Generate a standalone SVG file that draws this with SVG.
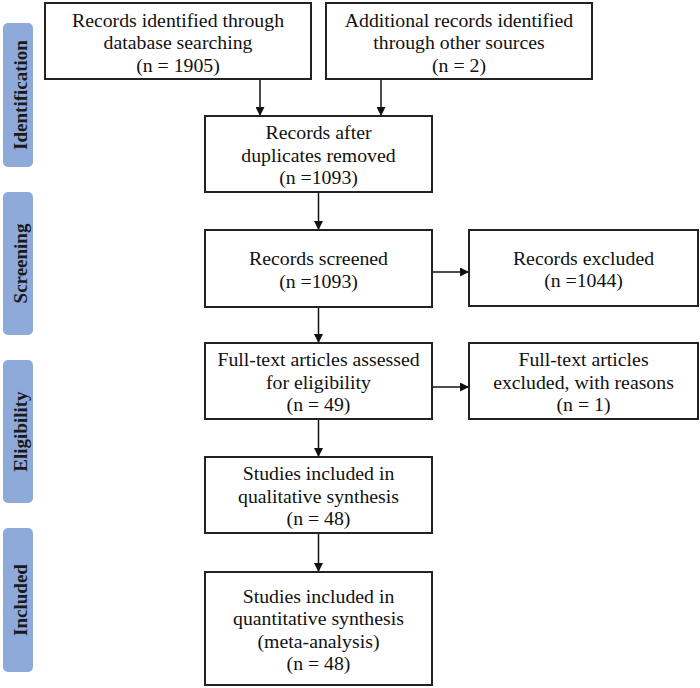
<svg xmlns="http://www.w3.org/2000/svg" width="700" height="688" viewBox="0 0 700 688">
<defs>
<style>
.box{fill:#fff;stroke:#222;stroke-width:2}
.t{font-family:"Liberation Serif","Times New Roman",serif;font-size:19.8px;fill:#111;text-anchor:middle}
.bar{fill:#8eaadb}
.side{font-family:"Liberation Serif","Times New Roman",serif;font-size:19px;font-weight:bold;fill:#1a1a1a;text-anchor:middle}
.c{stroke:#111;stroke-width:1.5;fill:none;marker-end:url(#ah)}
</style>
<marker id="ah" viewBox="0 0 10 10" refX="10" refY="5" markerWidth="9" markerHeight="9" markerUnits="userSpaceOnUse" orient="auto">
<path d="M0,0 L10,5 L0,10 Z" fill="#111"/>
</marker>
</defs>
<rect width="700" height="688" fill="#fff"/>
<g id="phase-identification"><rect class="bar" x="3" y="23" width="30" height="144" rx="5"/><text class="side" transform="translate(27,95) rotate(-90)">Identification</text></g>
<g id="phase-screening"><rect class="bar" x="3" y="192" width="30" height="143" rx="5"/><text class="side" transform="translate(27,263.5) rotate(-90)">Screening</text></g>
<g id="phase-eligibility"><rect class="bar" x="3" y="360" width="30" height="143" rx="5"/><text class="side" transform="translate(27,431.5) rotate(-90)">Eligibility</text></g>
<g id="phase-included"><rect class="bar" x="3" y="528" width="30" height="144" rx="5"/><text class="side" transform="translate(27,600) rotate(-90)">Included</text></g>

<g id="connectors">
<path class="c" d="M260,79 V116"/>
<path class="c" d="M381,79 V116"/>
<path class="c" d="M318.5,192 V230"/>
<path class="c" d="M432,272 H469"/>
<path class="c" d="M318.5,307 V343"/>
<path class="c" d="M432,387 H469"/>
<path class="c" d="M318.5,419 V457"/>
<path class="c" d="M318.5,533 V572"/>
</g>

<g id="db-records"><rect class="box" x="45" y="3" width="266" height="76"/>
<text class="t" x="178" y="26.5">Records identified through</text>
<text class="t" x="178" y="49">database searching</text>
<text class="t" x="178" y="71.5">(n = 1905)</text></g>

<g id="other-records"><rect class="box" x="326" y="3" width="266" height="76"/>
<text class="t" x="459" y="26.5">Additional records identified</text>
<text class="t" x="459" y="49">through other sources</text>
<text class="t" x="459" y="71.5">(n = 2)</text></g>

<g id="deduplicated"><rect class="box" x="205" y="116" width="227" height="76"/>
<text class="t" x="318.5" y="139">Records after</text>
<text class="t" x="318.5" y="161.5">duplicates removed</text>
<text class="t" x="318.5" y="184">(n =1093)</text></g>

<g id="screened"><rect class="box" x="205" y="230" width="227" height="77"/>
<text class="t" x="318.5" y="265">Records screened</text>
<text class="t" x="318.5" y="287.5">(n =1093)</text></g>

<g id="excluded"><rect class="box" x="469" y="230" width="229" height="76"/>
<text class="t" x="583.5" y="264.5">Records excluded</text>
<text class="t" x="583.5" y="287">(n =1044)</text></g>

<g id="fulltext"><rect class="box" x="205" y="343" width="227" height="76"/>
<text class="t" x="318.5" y="366">Full-text articles assessed</text>
<text class="t" x="318.5" y="388.5">for eligibility</text>
<text class="t" x="318.5" y="411">(n = 49)</text></g>

<g id="fulltext-excluded"><rect class="box" x="469" y="343" width="229" height="76"/>
<text class="t" x="583.5" y="366">Full-text articles</text>
<text class="t" x="583.5" y="388.5">excluded, with reasons</text>
<text class="t" x="583.5" y="411">(n = 1)</text></g>

<g id="qualitative"><rect class="box" x="205" y="457" width="227" height="76"/>
<text class="t" x="318.5" y="480">Studies included in</text>
<text class="t" x="318.5" y="502.5">qualitative synthesis</text>
<text class="t" x="318.5" y="525">(n = 48)</text></g>

<g id="quantitative"><rect class="box" x="205" y="572" width="227" height="113"/>
<text class="t" x="318.5" y="602.5">Studies included in</text>
<text class="t" x="318.5" y="625">quantitative synthesis</text>
<text class="t" x="318.5" y="647.5">(meta-analysis)</text>
<text class="t" x="318.5" y="670">(n = 48)</text></g>
</svg>
